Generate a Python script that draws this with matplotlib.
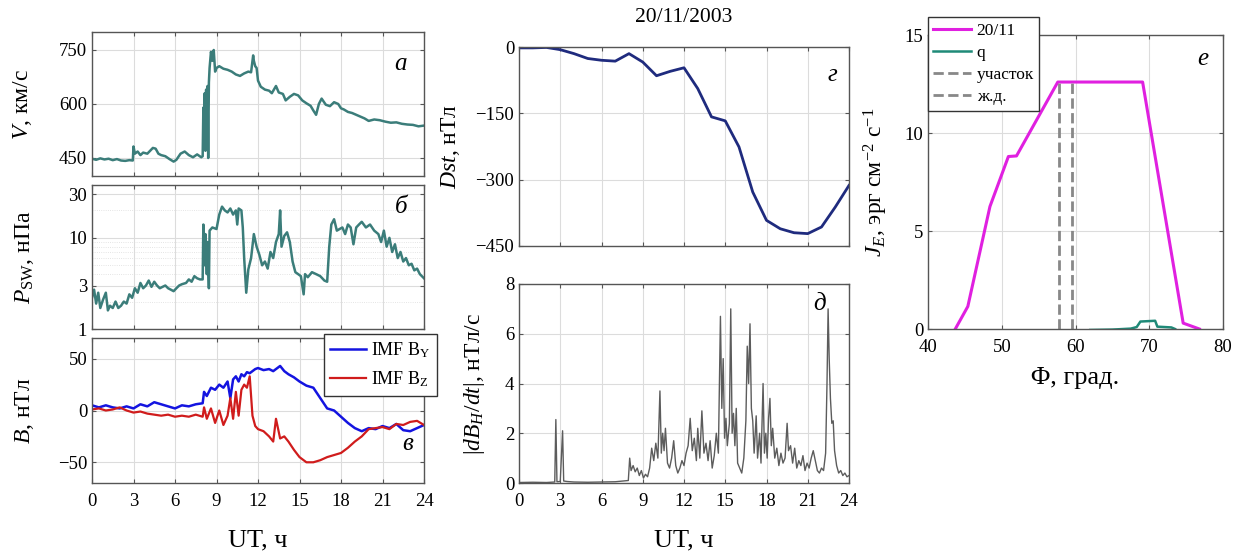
import numpy as np
import matplotlib
matplotlib.use("Agg")
import matplotlib.pyplot as plt

plt.rcParams['font.family'] = ['Liberation Serif', 'DejaVu Serif']
plt.rcParams['mathtext.fontset'] = 'custom'
plt.rcParams['mathtext.rm'] = 'Liberation Serif'
plt.rcParams['mathtext.it'] = 'Liberation Serif:italic'

# --- solar wind speed V, km/s
v_t = [0, 0.3, 0.6, 0.9, 1.2, 1.5, 1.8, 2.1, 2.4, 2.7, 2.95, 3.0, 3.1, 3.3, 3.5, 3.7,
       4.0, 4.2, 4.4, 4.6, 4.8, 5.0, 5.3, 5.6, 5.9, 6.1, 6.4, 6.7, 7.0, 7.3, 7.6, 7.9,
       8.0, 8.05, 8.1, 8.15, 8.2, 8.25, 8.3, 8.35, 8.4, 8.45, 8.5, 8.6, 8.7, 8.8, 8.9,
       9.0, 9.2, 9.5, 9.8, 10.1, 10.4, 10.7, 11.0, 11.3, 11.5, 11.65, 11.7, 11.8, 11.9,
       12.0, 12.2, 12.5, 12.8, 13.0, 13.3, 13.5, 13.8, 14.0, 14.3, 14.6, 14.9, 15.2,
       15.5, 15.8, 16.0, 16.2, 16.4, 16.6, 16.9, 17.2, 17.5, 17.8, 18.0, 18.2, 18.5,
       18.8, 19.1, 19.4, 19.7, 20.0, 20.4, 20.8, 21.2, 21.6, 22.0, 22.4, 22.8, 23.2,
       23.6, 24.0]
v_val = [448, 445, 449, 446, 448, 444, 447, 443, 442, 444, 443, 482, 462, 468, 458, 465,
         462, 470, 478, 476, 462, 458, 455, 447, 440, 445, 462, 468, 458, 452, 460, 452,
         455, 590, 520, 630, 470, 640, 530, 650, 450, 660, 700, 745, 720, 750, 690,
         700, 705, 698, 695, 690, 682, 678, 685, 690, 688, 735, 720, 705, 700,
         665, 648, 640, 637, 630, 650, 632, 628, 610, 620, 628, 624, 610,
         602, 595, 582, 570, 600, 615, 598, 594, 605, 600, 588, 585, 578,
         575, 570, 565, 560, 553, 557, 555, 551, 548, 549, 545, 543, 542,
         538, 540]

# --- solar wind dynamic pressure, nPa
p_t = [0, 0.15, 0.3, 0.45, 0.6, 0.8, 1.0, 1.15, 1.3, 1.5, 1.7, 1.9, 2.1, 2.3, 2.5, 2.7,
       2.9, 3.1, 3.3, 3.5, 3.7, 3.9, 4.1, 4.3, 4.5, 4.7, 4.9, 5.1, 5.3, 5.5, 5.7, 5.9,
       6.1, 6.3, 6.5, 6.8, 7.0, 7.2, 7.4, 7.6, 7.8, 8.0, 8.05, 8.15, 8.2, 8.3, 8.35,
       8.45, 8.5, 8.7, 9.0, 9.2, 9.4, 9.6, 9.8, 10.0, 10.2, 10.4, 10.5, 10.6, 10.8,
       10.9, 11.0, 11.15, 11.3, 11.5, 11.7, 11.9, 12.1, 12.3, 12.5, 12.7, 12.9, 13.1,
       13.3, 13.5, 13.6, 13.7, 13.9, 14.1, 14.3, 14.5, 14.7, 14.9, 15.1, 15.3, 15.4,
       15.6, 15.9, 16.2, 16.5, 16.8, 17.0, 17.15, 17.3, 17.5, 17.7, 17.9, 18.1, 18.3,
       18.5, 18.7, 18.9, 19.1, 19.3, 19.5, 19.8, 20.1, 20.4, 20.7, 20.9, 21.1, 21.3,
       21.5, 21.7, 21.9, 22.1, 22.3, 22.5, 22.7, 22.9, 23.1, 23.3, 23.5, 23.7, 24.0]
p_val = [2.2, 2.7, 1.9, 2.5, 1.7, 2.1, 2.5, 1.6, 1.8, 1.7, 2.0, 1.7, 1.8, 2.0, 1.9, 2.4,
         2.2, 2.8, 2.5, 3.2, 2.8, 3.0, 3.4, 2.9, 3.3, 3.0, 2.8, 2.9, 3.0, 2.8, 2.7, 2.6,
         2.8, 3.0, 3.1, 3.2, 3.5, 3.3, 3.8, 3.6, 3.5, 3.5, 14, 5, 11, 4, 9,
         2.8, 12, 13, 12.5, 18, 22, 20, 19, 21, 18, 20, 14, 21, 20,
         13, 6, 2.5, 4.5, 6, 11, 8, 6.5, 5, 5.5, 4.6, 7, 6,
         9, 11, 20, 8, 10.5, 11.5, 9, 5.5, 4.2, 4.0, 3.8, 2.4, 4.0,
         3.7, 4.2, 4.0, 3.8, 3.4, 3.3, 8, 14, 16, 12, 12.5, 13, 11,
         14, 13, 8.5, 13, 14, 15, 13, 14, 12, 11, 9, 12, 8,
         10, 7, 8.5, 6, 7, 5.5, 6, 5, 5.2, 4.4, 4.6, 4.0, 3.6]

# --- IMF components, nT
b_t = [0, 0.5, 1, 1.5, 2, 2.5, 3, 3.5, 4, 4.5, 5, 5.5, 6, 6.5, 7, 7.5, 8, 8.1, 8.3, 8.6,
       8.9, 9.2, 9.5, 9.8, 10.0, 10.2, 10.4, 10.6, 10.8, 11.0, 11.2, 11.4, 11.6, 11.8,
       12.0, 12.4, 12.8, 13.1, 13.3, 13.6, 13.9, 14.2, 14.6, 15.0, 15.5, 16.0, 16.5,
       17.0, 17.5, 18.0, 18.5, 19.0, 19.5, 20.0, 20.5, 21.0, 21.5, 22.0, 22.5, 23.0,
       23.5, 24.0]
by_val = [5, 3, 5, 3, 2, 4, 2, 6, 4, 8, 6, 4, 2, 5, 4, 6, 7, 18, 14, 22,
          20, 25, 22, 28, 12, 30, 33, 28, 35, 33, 37, 36, 38, 40,
          41, 39, 40, 38, 40, 43, 38, 35, 32, 28, 24, 22, 12,
          2, 0, -6, -12, -17, -20, -17, -18, -15, -17, -13, -19, -20,
          -17, -14]
bz_val = [1, 2, 0, 1, 3, 0, -2, -1, -3, -4, -5, -4, -6, -5, -6, -4, -6, 3, -8, 2,
          -12, 0, -14, -5, 12, -8, 18, -5, 20, 25, 22, 33, -5, -15,
          -18, -20, -25, -30, -8, -27, -25, -30, -38, -45, -50, -50, -48,
          -45, -43, -41, -36, -30, -25, -18, -17, -16, -18, -13, -14, -11,
          -10, -14]

# --- Dst, nT (hourly)
dst_t = list(range(25))
dst_val = [-2, -2, -1, -6, -15, -26, -30, -32, -15, -34, -65, -55, -47, -94, -158,
           -167, -226, -328, -392, -411, -420, -422, -407, -362, -313]

# --- |dB_H/dt|, nT/s
d_t = [0, 1, 2, 2.6, 2.68, 2.76, 3.0, 3.17, 3.25, 3.5, 4, 5, 6, 7, 7.6, 7.95, 8.05, 8.15,
       8.3, 8.45, 8.6, 8.75, 8.9, 9.05, 9.2, 9.35, 9.5, 9.65, 9.8, 9.95, 10.1, 10.25,
       10.35, 10.45, 10.55, 10.65, 10.8, 10.95, 11.1, 11.25, 11.4, 11.55, 11.7, 11.85,
       12.0, 12.15, 12.3, 12.45, 12.6, 12.75, 12.9, 13.0, 13.15, 13.3, 13.45, 13.6,
       13.75, 13.9, 14.05, 14.2, 14.35, 14.5, 14.65, 14.75, 14.85, 14.95, 15.05, 15.15,
       15.3, 15.4, 15.5, 15.6, 15.7, 15.8, 15.9, 16.05, 16.2, 16.35, 16.5, 16.6, 16.7,
       16.8, 16.9, 17.0, 17.1, 17.25, 17.35, 17.5, 17.6, 17.75, 17.85, 17.95, 18.05,
       18.15, 18.25, 18.35, 18.45, 18.6, 18.75, 18.9, 19.05, 19.2, 19.35, 19.5, 19.6,
       19.75, 19.9, 20.05, 20.2, 20.35, 20.5, 20.65, 20.8, 20.95, 21.1, 21.25, 21.4,
       21.55, 21.7, 21.85, 22.0, 22.15, 22.3, 22.4, 22.48, 22.56, 22.65, 22.75, 22.85,
       22.95, 23.1, 23.25, 23.4, 23.55, 23.7, 23.85, 24.0]
d_val = [0.02, 0.03, 0.02, 0.04, 2.55, 0.05, 0.06, 2.1, 0.08, 0.06, 0.04, 0.03, 0.04, 0.05,
         0.08, 0.1, 1.0, 0.5, 0.7, 0.45, 0.6, 0.3, 0.5, 0.2, 0.35, 0.25, 0.6, 1.4, 0.9,
         1.6, 1.0, 3.7, 1.2, 2.0, 1.3, 2.2, 0.8, 0.6, 1.0, 1.7, 0.7, 0.4, 0.6, 0.9,
         0.7, 1.2, 1.5, 2.6, 1.3, 1.8, 0.9, 2.2, 1.0, 2.9, 1.2, 1.6,
         0.9, 1.7, 0.6, 1.1, 2.0, 1.2, 6.7, 3.0, 5.0, 1.8, 2.6, 1.5,
         2.4, 7.0, 2.0, 2.8, 1.5, 3.0, 0.8, 0.6, 0.4, 1.0, 2.5, 5.5, 4.0,
         6.4, 3.0, 2.5, 1.2, 2.7, 1.0, 2.0, 0.8, 4.0, 1.2, 2.0, 1.0,
         2.6, 3.4, 1.5, 2.2, 1.0, 1.4, 0.7, 1.2, 0.8, 1.0, 2.4, 1.3,
         1.5, 0.8, 1.4, 0.6, 0.9, 0.7, 1.1, 0.5, 0.8, 0.6, 1.0, 1.3,
         0.9, 0.5, 0.4, 0.6, 0.5, 1.2, 4.0, 7.0, 5.0, 3.4, 2.4, 2.5,
         1.3, 0.7, 0.4, 0.5, 0.3, 0.4, 0.25, 0.3]

# --- energy flux vs latitude
je_lat = [43.7, 45.4, 48.4, 50.9, 52.0, 57.6, 69.1, 74.6, 76.8]
je_val = [0, 1.15, 6.25, 8.8, 8.83, 12.6, 12.6, 0.3, 0]
q_lat = [62.0, 65.0, 67.5, 68.3, 68.8, 70.8, 71.1, 73.0, 73.5]
q_val = [-0.05, -0.03, 0.02, 0.1, 0.38, 0.42, 0.12, 0.08, 0.0]
mark_lat = [57.8, 59.5]
mark_top = 12.6

W, H = 1238, 551
fig = plt.figure(figsize=(W / 100, H / 100), dpi=100)


def box(x0, y0, x1, y1):
    return fig.add_axes([x0 / W, 1 - y1 / H, (x1 - x0) / W, (y1 - y0) / H])


TICK = 13.5
LAB = 17
grid_c = '#dcdcdc'


def style(ax):
    ax.grid(True, color=grid_c, lw=0.8)
    ax.set_axisbelow(True)
    ax.tick_params(direction='in', top=True, right=True, labelsize=TICK,
                   length=3, color='#555555')
    ax.tick_params(axis='x', pad=7)
    for s in ax.spines.values():
        s.set_color('#555555')
        s.set_linewidth(1.0)


def letter(ax, x, y, s):
    ax.text(x, y, s, transform=ax.transAxes, fontsize=18, style='italic',
            ha='center', va='center')


sw_c = '#3b7d7a'
hours = np.arange(0, 25, 3)

ax_a = box(92, 32, 424, 176)
ax_a.plot(v_t, v_val, color=sw_c, lw=1.8)
ax_a.set_xlim(0, 24)
ax_a.set_ylim(400, 800)
ax_a.set_yticks([450, 600, 750])
ax_a.set_xticks(hours)
ax_a.set_xticklabels([])
ax_a.set_ylabel(r'$V$, км/с', fontsize=LAB)
ax_a.yaxis.set_label_coords(-0.175, 0.5)
letter(ax_a, 0.93, 0.78, 'а')
style(ax_a)

ax_b = box(92, 185, 424, 329)
ax_b.semilogy(p_t, p_val, color=sw_c, lw=1.8)
ax_b.set_xlim(0, 24)
ax_b.set_ylim(1, 38)
ax_b.set_yticks([1, 3, 10, 30])
ax_b.set_yticklabels(['1', '3', '10', '30'])
ax_b.set_xticks(hours)
ax_b.set_xticklabels([])
ax_b.set_ylabel(r'$P_{\rm SW}$, нПа', fontsize=LAB)
ax_b.yaxis.set_label_coords(-0.17, 0.5)
letter(ax_b, 0.93, 0.85, 'б')
style(ax_b)
ax_b.grid(True, which='minor', axis='y', color=grid_c, lw=0.6, ls=':')
ax_b.tick_params(which='minor', left=False, right=False)

ax_c = box(92, 338, 424, 483)
ax_c.plot(b_t, by_val, color='#1414e0', lw=1.8, label=r'IMF B$_{\rm Y}$')
ax_c.plot(b_t, bz_val, color='#d01c1c', lw=1.6, label=r'IMF B$_{\rm Z}$')
ax_c.set_xlim(0, 24)
ax_c.set_ylim(-70, 70)
ax_c.set_yticks([-50, 0, 50])
ax_c.set_xticks(hours)
ax_c.set_ylabel(r'$B$, нТл', fontsize=LAB)
ax_c.yaxis.set_label_coords(-0.17, 0.5)
ax_c.set_xlabel('UT, ч', fontsize=19, labelpad=14)
letter(ax_c, 0.95, 0.27, 'в')
leg = ax_c.legend(loc='upper right', bbox_to_anchor=(1.04, 1.03), borderaxespad=0,
                  fontsize=13, frameon=True, fancybox=False, handlelength=2.0,
                  borderpad=0.35, labelspacing=0.55, handletextpad=0.3, framealpha=1)
leg.get_frame().set_edgecolor('#333333')
leg.get_frame().set_linewidth(1.0)
style(ax_c)

ax_g = box(519, 47, 849, 246)
ax_g.plot(dst_t, dst_val, color='#1f2b7e', lw=2.0)
ax_g.set_xlim(0, 24)
ax_g.set_ylim(-450, 0)
ax_g.set_yticks([-450, -300, -150, 0])
ax_g.set_xticks(hours)
ax_g.set_xticklabels([])
ax_g.set_ylabel(r'$Dst$, нТл', fontsize=LAB)
ax_g.yaxis.set_label_coords(-0.173, 0.5)
ax_g.set_title('20/11/2003', fontsize=15.5, pad=18)
letter(ax_g, 0.95, 0.86, 'г')
style(ax_g)

ax_d = box(519, 284, 849, 483)
ax_d.plot(d_t, d_val, color='#5c5c5c', lw=1.0)
ax_d.set_xlim(0, 24)
ax_d.set_ylim(0, 8)
ax_d.set_yticks([0, 2, 4, 6, 8])
ax_d.set_xticks(hours)
ax_d.set_ylabel(r'$|dB_H/dt|$, нТл/с', fontsize=LAB)
ax_d.yaxis.set_label_coords(-0.097, 0.5)
ax_d.set_xlabel('UT, ч', fontsize=19, labelpad=14)
letter(ax_d, 0.91, 0.9, 'д')
style(ax_d)

ax_e = box(928, 35, 1223, 329)
ax_e.plot(je_lat, je_val, color='#e020e0', lw=2.2, label='20/11')
ax_e.plot(q_lat, q_val, color='#1f8a78', lw=1.8, label='q')
ax_e.plot([mark_lat[0]] * 2, [0, mark_top], color='#888888', lw=2, ls='--', label='участок')
ax_e.plot([mark_lat[1]] * 2, [0, mark_top], color='#888888', lw=2, ls='--', label='ж.д.')
ax_e.set_xlim(40, 80)
ax_e.set_ylim(0, 15)
ax_e.set_xticks([40, 50, 60, 70, 80])
ax_e.set_yticks([0, 5, 10, 15])
ax_e.set_ylabel(r'$J_E$, эрг см$^{-2}$ с$^{-1}$', fontsize=LAB)
ax_e.yaxis.set_label_coords(-0.129, 0.5)
ax_e.set_xlabel('Φ, град.', fontsize=19, labelpad=8)
letter(ax_e, 0.93, 0.92, 'е')
leg2 = ax_e.legend(loc='upper left', bbox_to_anchor=(0, 1.06), borderaxespad=0,
                   fontsize=12.5, frameon=True, fancybox=False, handlelength=2.2,
                   borderpad=0.3, labelspacing=0.35, handletextpad=0.3, framealpha=1)
leg2.get_frame().set_edgecolor('#333333')
leg2.get_frame().set_linewidth(1.0)
style(ax_e)

fig.savefig('out.png', dpi=100)
